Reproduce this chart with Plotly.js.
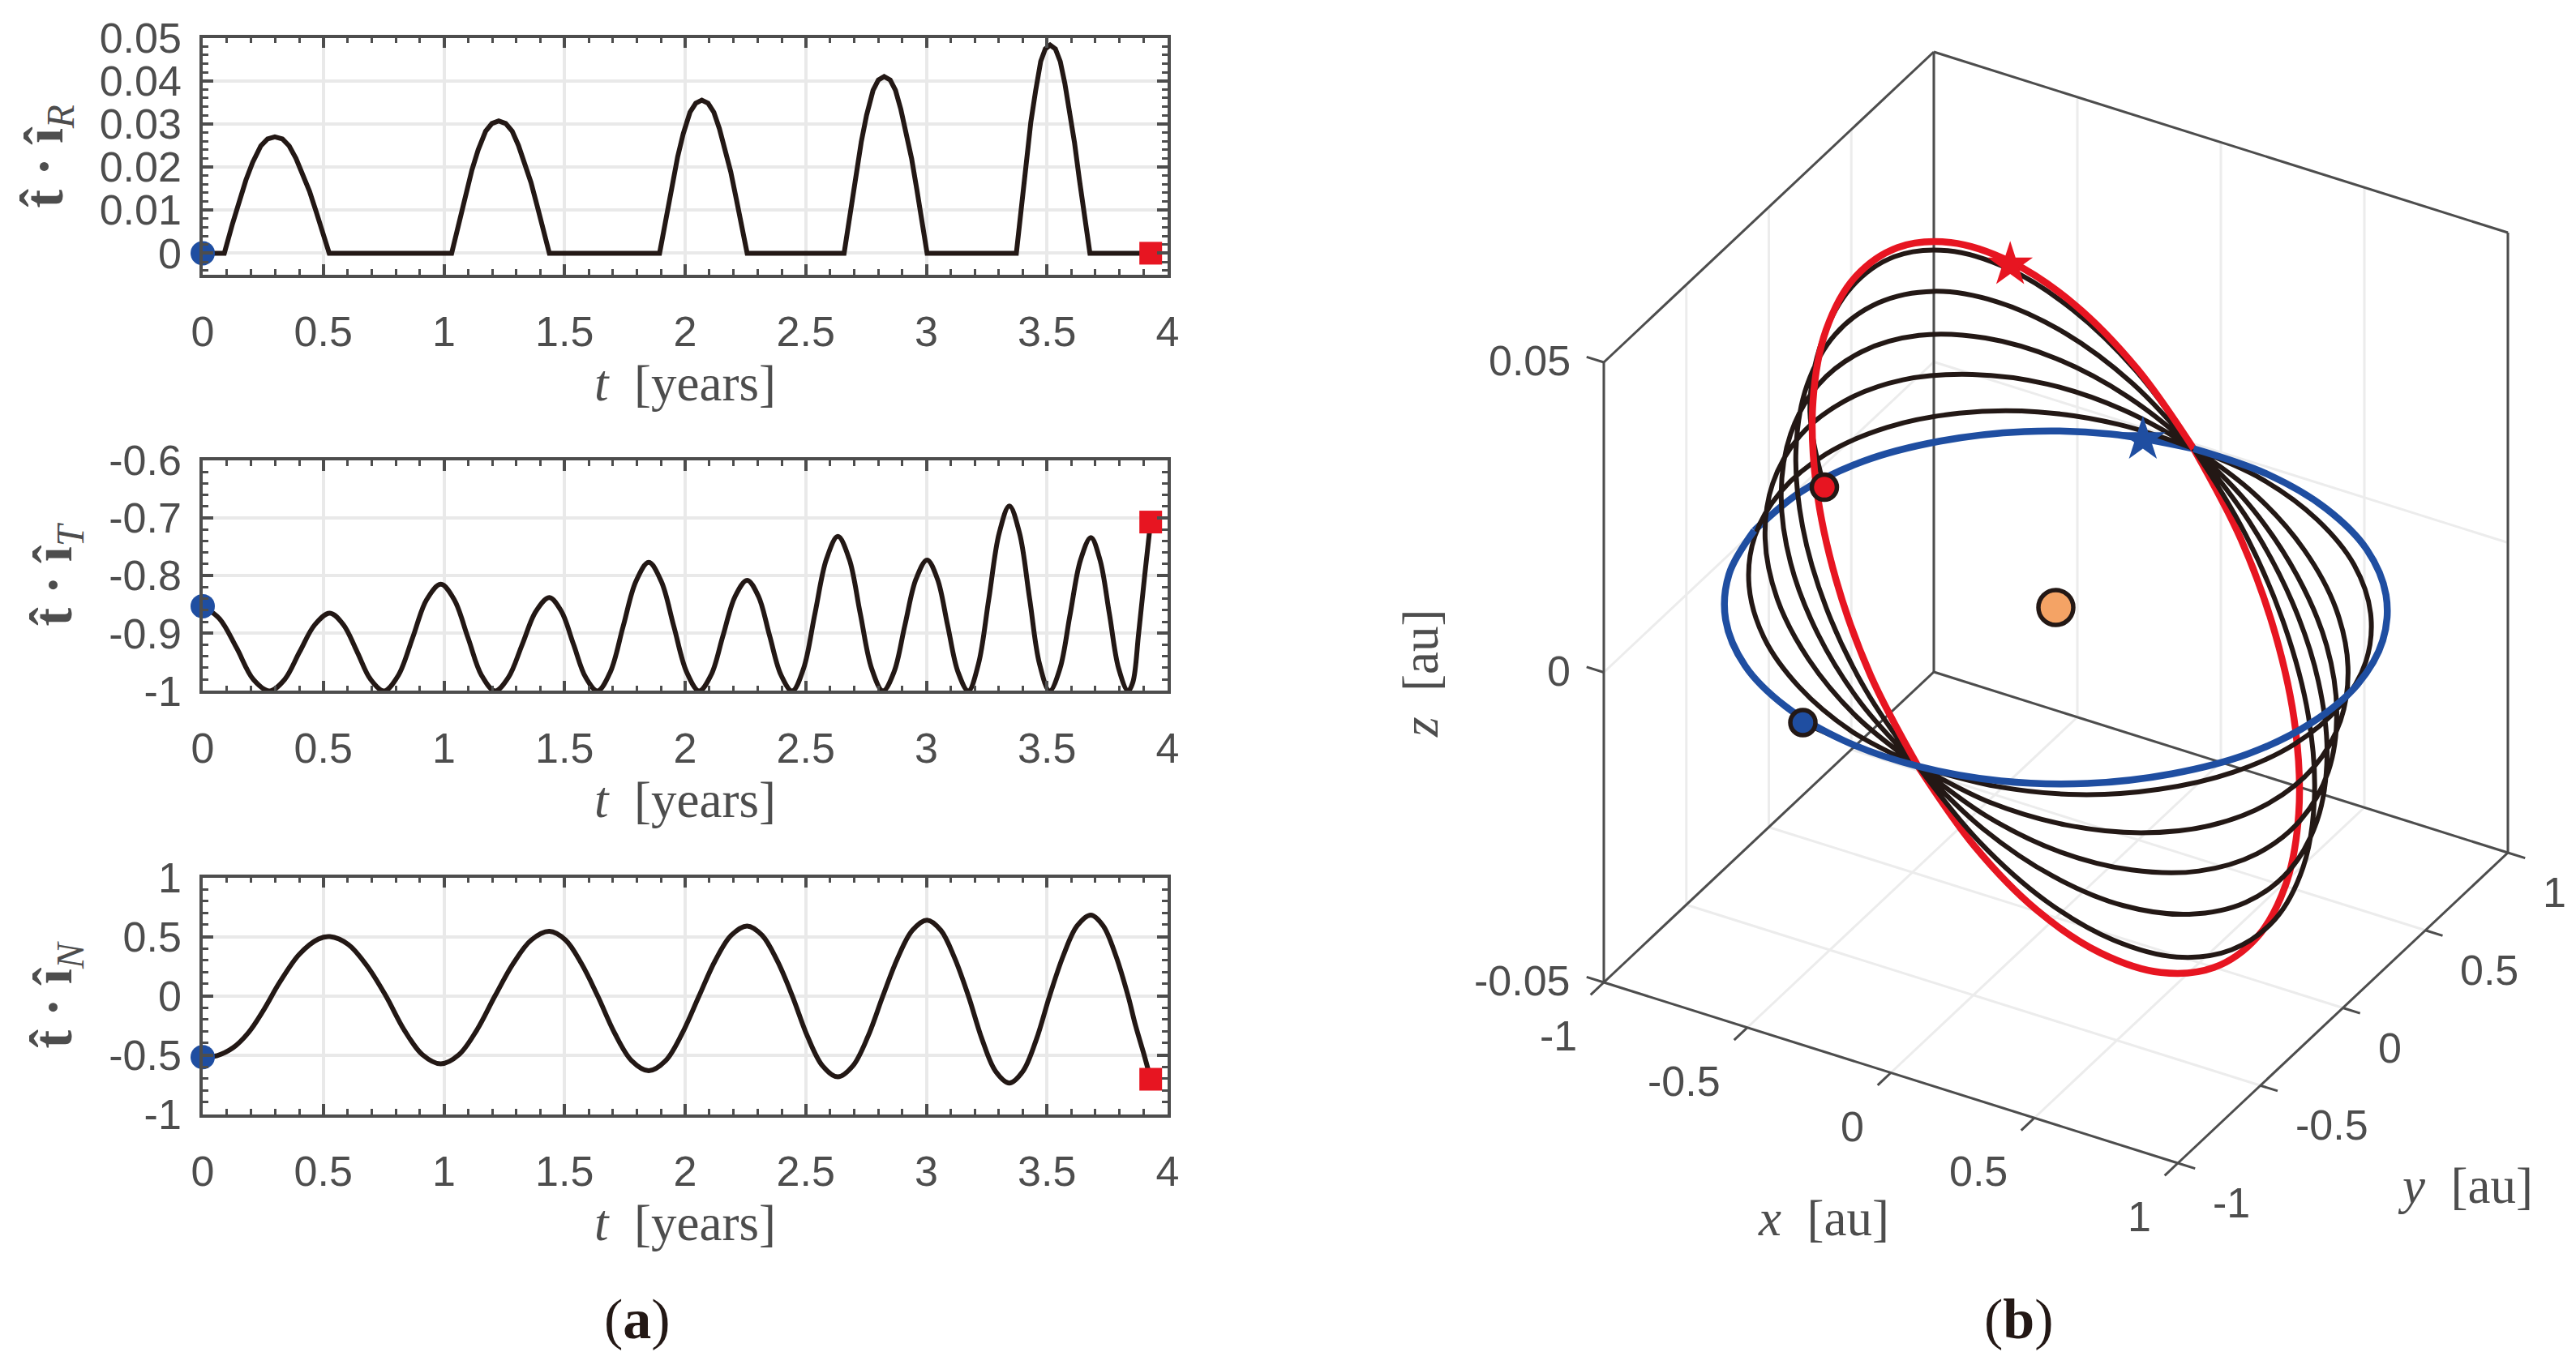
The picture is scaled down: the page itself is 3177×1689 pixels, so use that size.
<!DOCTYPE html>
<html><head><meta charset="utf-8">
<script src="https://cdn.plot.ly/plotly-3.0.1.min.js"></script>
<style>html,body{margin:0;padding:0;background:#fff}</style></head>
<body><div id="chart" style="width:3177px;height:1689px"></div>
<script>
// Panel (a) data
const tR=[0,0.0896,0.1233,0.1793,0.2073,0.2409,0.2689,0.2991,0.3305,0.3585,0.3865,0.4146,0.4426,0.4706,0.4986,0.5244,1.032,1.064,1.116,1.142,1.173,1.199,1.227,1.256,1.283,1.309,1.335,1.361,1.387,1.413,1.437,1.894,1.922,1.969,1.992,2.02,2.044,2.069,2.095,2.119,2.142,2.166,2.189,2.212,2.236,2.257,2.659,2.686,2.73,2.752,2.779,2.801,2.825,2.85,2.872,2.894,2.916,2.939,2.961,2.983,3.003,3.373,3.396,3.433,3.453,3.474,3.493,3.513,3.535,3.555,3.574,3.594,3.614,3.634,3.654,3.678,3.93];
const vR=[0,0,0.0068,0.017,0.0211,0.0249,0.0265,0.027,0.0265,0.0249,0.022,0.0185,0.0144,0.0096,0.0049,0,0,0.0077,0.0193,0.024,0.0283,0.0301,0.0307,0.0301,0.0283,0.025,0.021,0.0164,0.0109,0.0056,0,0,0.0089,0.0224,0.0277,0.0327,0.0348,0.0355,0.0348,0.0327,0.0289,0.0243,0.0189,0.0126,0.0064,0,0,0.0103,0.0258,0.032,0.0378,0.0402,0.041,0.0402,0.0378,0.0334,0.0281,0.0219,0.0146,0.0074,0,0,0.0122,0.0304,0.0377,0.0445,0.0474,0.0483,0.0474,0.0445,0.0394,0.0331,0.0257,0.0172,0.0087,0,0];
const tT=[0,0.07,0.14,0.21,0.277,0.34,0.402,0.465,0.527,0.583,0.64,0.696,0.752,0.811,0.87,0.928,0.987,1.043,1.1,1.156,1.212,1.268,1.325,1.381,1.437,1.487,1.537,1.587,1.637,1.69,1.743,1.796,1.849,1.901,1.953,2.006,2.058,2.108,2.157,2.207,2.257,2.304,2.35,2.397,2.444,2.491,2.538,2.586,2.633,2.68,2.726,2.773,2.82,2.866,2.911,2.957,3.003,3.046,3.088,3.131,3.174,3.216,3.259,3.302,3.344,3.386,3.428,3.469,3.511,3.554,3.596,3.639,3.682,3.72,3.759,3.797,3.836,3.856,3.88,3.905,3.93];
const vT=[-0.853,-0.875,-0.925,-0.98,-1,-0.98,-0.932,-0.885,-0.865,-0.885,-0.932,-0.98,-1,-0.973,-0.908,-0.842,-0.815,-0.842,-0.908,-0.973,-1,-0.976,-0.919,-0.862,-0.838,-0.862,-0.919,-0.976,-1,-0.967,-0.888,-0.81,-0.777,-0.81,-0.888,-0.967,-1,-0.972,-0.904,-0.836,-0.808,-0.836,-0.904,-0.972,-1,-0.961,-0.866,-0.771,-0.732,-0.771,-0.866,-0.961,-1,-0.967,-0.886,-0.806,-0.773,-0.806,-0.886,-0.967,-1,-0.953,-0.84,-0.726,-0.679,-0.726,-0.84,-0.953,-1,-0.961,-0.867,-0.773,-0.734,-0.773,-0.867,-0.961,-1,-0.985,-0.9,-0.8,-0.705];
const tN=[0,0.06,0.125,0.19,0.254,0.318,0.4,0.48,0.527,0.604,0.682,0.759,0.835,0.911,0.987,1.062,1.137,1.212,1.287,1.362,1.437,1.504,1.57,1.637,1.708,1.778,1.849,1.919,1.988,2.058,2.124,2.191,2.257,2.319,2.382,2.444,2.507,2.57,2.633,2.695,2.758,2.82,2.881,2.942,3.003,3.06,3.117,3.174,3.231,3.287,3.344,3.4,3.456,3.511,3.568,3.625,3.682,3.733,3.785,3.836,3.867,3.9,3.93];
const vN=[-0.518,-0.505,-0.44,-0.31,-0.115,0.11,0.35,0.48,0.5,0.433,0.25,0,-0.2875,-0.498,-0.575,-0.498,-0.2875,0,0.272,0.471,0.544,0.471,0.272,0,-0.3165,-0.548,-0.633,-0.548,-0.3165,0,0.295,0.511,0.59,0.511,0.295,0,-0.3425,-0.593,-0.685,-0.593,-0.3425,0,0.3195,0.553,0.639,0.553,0.3195,0,-0.3685,-0.638,-0.737,-0.638,-0.3685,0,0.341,0.591,0.682,0.591,0.341,0,-0.25,-0.48,-0.705];
const tStart=[0], tEnd=[3.93];
const rStart=[0], rEnd=[0], tiStart=[-0.853], tiEnd=[-0.707], nStart=[-0.518], nEnd=[-0.705];
const xTicks=[0,0.5,1,1.5,2,2.5,3,3.5,4];
const xLabels=['0','0.5','1','1.5','2','2.5','3','3.5','4'];
const rTicks=[0,0.01,0.02,0.03,0.04,0.05];
const rLabels=['0','0.01','0.02','0.03','0.04','0.05'];
const iTicks=[-1,-0.9,-0.8,-0.7,-0.6];
const iLabels=['-1','-0.9','-0.8','-0.7','-0.6'];
const nTicks=[-1,-0.5,0,0.5,1];
const nLabels=['-1','-0.5','0','0.5','1'];

// Panel (b) data: orbit positions in au
const trajX=[-0.322,-0.086,0.081,
 0.311,0.52,0.693,0.8195,0.89,0.8995,0.848,0.7385,0.579,0.38,0.155,-0.081,
 -0.304,-0.5055,-0.673,-0.7945,-0.862,-0.871,-0.82,-0.7135,-0.559,-0.3655,-0.148,0.081,
 0.29,0.4785,0.635,0.748,0.81,0.817,0.768,0.667,0.521,0.3385,0.134,-0.081,
 -0.288,-0.476,-0.631,-0.7435,-0.805,-0.812,-0.763,-0.6625,-0.517,-0.336,-0.132,0.081,
 0.279,0.458,0.606,0.7125,0.771,0.776,0.729,0.6315,0.492,0.318,0.123,-0.081,
 -0.273,-0.4465,-0.589,-0.6925,-0.748,-0.753,-0.706,-0.6115,-0.475,-0.3065,-0.117,0.081,
 0.27,0.44,0.58,0.6815,0.736,0.74,0.694,0.6005,0.466,0.3,0.114,-0.081,
 -0.259,-0.4195,-0.551,-0.6455,-0.696,-0.699,-0.654,-0.5645,-0.437,-0.2795,-0.103,0.081,
 0.258,0.417,0.548,0.6415,0.691,0.694,0.649,0.5605,0.434,0.277,0.102,-0.081,
 -0.246,-0.394,-0.515,-0.6015,-0.647,-0.648,-0.605,-0.5205,-0.384];
const trajY=[-0.973,-0.99,-0.976,
 -0.903,-0.767,-0.58,-0.353,-0.103,0.155,0.403,0.623,0.8,0.923,0.983,0.976,
 0.904,0.77,0.584,0.358,0.108,-0.1505,-0.398,-0.618,-0.796,-0.92,-0.982,-0.976,
 -0.906,-0.774,-0.59,-0.366,-0.117,0.141,0.389,0.61,0.79,0.916,0.98,0.976,
 0.907,0.775,0.591,0.3665,0.117,-0.14,-0.389,-0.6095,-0.789,-0.915,-0.979,-0.976,
 -0.908,-0.778,-0.595,-0.372,-0.123,0.134,0.383,0.604,0.785,0.912,0.978,0.976,
 0.909,0.78,0.598,0.375,0.127,-0.13,-0.379,-0.601,-0.782,-0.91,-0.977,-0.976,
 -0.91,-0.781,-0.6,-0.377,-0.129,0.128,0.377,0.599,0.78,0.909,0.976,0.976,
 0.912,0.785,0.605,0.383,0.136,-0.121,-0.37,-0.593,-0.775,-0.905,-0.974,-0.976,
 -0.912,-0.785,-0.605,-0.384,-0.137,0.12,0.369,0.592,0.775,0.905,0.974,0.976,
 0.914,0.789,0.611,0.391,0.145,-0.112,-0.361,-0.585,-0.735];
const trajZ=[0.0011,0.0005,0,
 -0.0017,-0.0034,-0.0047,-0.0058,-0.0065,-0.0067,-0.0065,-0.0058,-0.0047,-0.0034,-0.0017,0,
 0.0025,0.0049,0.0069,0.0085,0.0095,0.0098,0.0095,0.0085,0.0069,0.0049,0.0025,0,
 -0.0045,-0.0087,-0.0123,-0.0151,-0.0168,-0.0174,-0.0168,-0.0151,-0.0123,-0.0087,-0.0045,0,
 0.005,0.0097,0.0136,0.0167,0.0186,0.0193,0.0186,0.0167,0.0136,0.0097,0.005,0,
 -0.0068,-0.0132,-0.0186,-0.0228,-0.0254,-0.0263,-0.0254,-0.0228,-0.0186,-0.0132,-0.0068,0,
 0.0073,0.0141,0.0199,0.0244,0.0272,0.0282,0.0272,0.0244,0.0199,0.0141,0.0073,0,
 -0.009,-0.0174,-0.0246,-0.0301,-0.0336,-0.0348,-0.0336,-0.0301,-0.0246,-0.0174,-0.009,0,
 0.0096,0.0185,0.0261,0.032,0.0356,0.0369,0.0356,0.032,0.0261,0.0185,0.0096,0,
 -0.0112,-0.0216,-0.0305,-0.0374,-0.0417,-0.0432,-0.0417,-0.0374,-0.0305,-0.0216,-0.0112,0,
 0.0117,0.0225,0.0318,0.039,0.0435,0.045,0.0435,0.039,0.0322];
const blueX=[-0.081,0.17,0.408,0.619,0.7875,0.902,0.956,0.944,0.8685,0.733,0.548,0.326,0.081,-0.17,-0.408,-0.619,-0.7875,-0.902,-0.956,-0.944,-0.8685,-0.733,-0.548,-0.326,-0.081];
const blueY=[0.976,0.986,0.9275,0.807,0.631,0.412,0.165,-0.094,-0.345,-0.573,-0.7625,-0.9,-0.976,-0.986,-0.9275,-0.807,-0.631,-0.412,-0.165,0.094,0.345,0.573,0.7625,0.9,0.976];
const blueZ=[0,-0.0007,-0.0013,-0.0018,-0.0023,-0.0025,-0.0026,-0.0025,-0.0023,-0.0018,-0.0013,-0.0007,0,0.0007,0.0013,0.0018,0.0023,0.0025,0.0026,0.0025,0.0023,0.0018,0.0013,0.0007,0];
const redX=[-0.081,0.087,0.2485,0.393,0.511,0.594,0.637,0.636,0.592,0.507,0.3885,0.243,0.081,-0.087,-0.2485,-0.393,-0.511,-0.594,-0.637,-0.636,-0.592,-0.507,-0.3885,-0.243,-0.081];
const redY=[0.976,0.9715,0.9,0.768,0.583,0.359,0.11,-0.147,-0.393,-0.612,-0.79,-0.9145,-0.976,-0.9715,-0.9,-0.768,-0.583,-0.359,-0.11,0.147,0.393,0.612,0.79,0.9145,0.976];
const redZ=[0,-0.0121,-0.0234,-0.033,-0.0404,-0.0451,-0.0467,-0.0451,-0.0404,-0.033,-0.0234,-0.0121,0,0.0121,0.0234,0.033,0.0404,0.0451,0.0467,0.0451,0.0404,0.033,0.0234,0.0121,0];
const sunXYZ=[0,0,0];
const blueDot=[-0.322,-0.973,0.0011], redDot=[-0.384,-0.735,0.0322];
const blueStar=[-0.232,0.931,0.0004], redStar=[-0.504,0.6,0.0329];
const xyTicks=[-1,-0.5,0,0.5,1], xyLabels=['-1','-0.5','0','0.5','1'];
const zTicks=[-0.05,0,0.05], zLabels=['-0.05','0','0.05'];

const BLACK='#231815', BLUE='#1f4ea1', RED='#e71521', ORANGE='#f4a365', AX='#4d4d4d', GRID='#e9e9e9';
const W=3177,H=1689;
const xd=[250/W,1440/W];
const yd=(a,b)=>[1-b/H,1-a/H];
const tickFont={family:'Liberation Sans, Arial, sans-serif',size:52,color:AX};
const titleFont={family:'Liberation Serif, serif',size:63,color:AX};
function xax(anchor){return {domain:xd,range:[0,4],anchor,tickvals:xTicks,ticktext:xLabels,tickfont:tickFont,ticks:'inside',ticklen:13,tickwidth:3.5,tickcolor:AX,
  ticklabelstandoff:22,showline:true,linecolor:AX,linewidth:3.5,mirror:'allticks',showgrid:true,gridcolor:GRID,gridwidth:3.5,zeroline:false,
  minor:{dtick:0.1,ticks:'inside',ticklen:7,tickwidth:3,tickcolor:AX,showgrid:false},
  title:{text:'<i>t</i>  [years]',font:titleFont,standoff:6}};}
function yax(anchor,dom,range,vals,labs,minor,ttl){return {domain:dom,range,anchor,tickvals:vals,ticktext:labs,tickfont:tickFont,ticks:'inside',ticklen:13,tickwidth:3.5,tickcolor:AX,
  ticklabelstandoff:12,showline:true,linecolor:AX,linewidth:3.5,mirror:'allticks',showgrid:true,gridcolor:GRID,gridwidth:3.5,zeroline:false,
  minor:{dtick:minor,ticks:'inside',ticklen:7,tickwidth:3,tickcolor:AX,showgrid:false},
  title:{text:ttl,font:{family:'Liberation Serif, serif',size:68,color:AX},standoff:24}};}
function line(x,y,xa,ya,shape){return {type:'scatter',mode:'lines',x,y,xaxis:xa,yaxis:ya,cliponaxis:false,line:{color:BLACK,width:6,shape,smoothing:1},hoverinfo:'skip'};}
function dot(x,y,xa,ya,sym,color,size){return {type:'scatter',mode:'markers',x,y,xaxis:xa,yaxis:ya,cliponaxis:false,marker:{symbol:sym,color,size,line:{width:0}},hoverinfo:'skip'};}

// Orthographic view of panel (b): one box unit along each axis, in pixels of the hidden view axes
const viewU=[354,203.5,0], viewV=[-111.5,191.5,7650];
const pu=(x,y,z)=>viewU[0]*x+viewU[1]*y+viewU[2]*z;
const pv=(x,y,z)=>viewV[0]*x+viewV[1]*y+viewV[2]*z;
function proj(X,Y,Z){return {x:X.map((v,i)=>pu(v,Y[i],Z[i])),y:X.map((v,i)=>pv(v,Y[i],Z[i]))};}
function pathTrace(X,Y,Z,color,width,shape){const p=proj(X,Y,Z);return {type:'scatter',mode:'lines',x:p.x,y:p.y,xaxis:'x4',yaxis:'y4',cliponaxis:false,line:{color,width,shape:shape||'linear',smoothing:1},hoverinfo:'skip'};}
function segTrace(segs,color,width){const X=[],Y=[];segs.forEach(s=>{X.push(pu(...s[0]),pu(...s[1]),null);Y.push(pv(...s[0]),pv(...s[1]),null);});
  return {type:'scatter',mode:'lines',x:X,y:Y,xaxis:'x4',yaxis:'y4',cliponaxis:false,line:{color,width},hoverinfo:'skip'};}
function m2(p,sym,color,size,lw){return {type:'scatter',mode:'markers',x:[pu(...p)],y:[pv(...p)],xaxis:'x4',yaxis:'y4',cliponaxis:false,marker:{symbol:sym,color,size,line:{color:BLACK,width:lw}},hoverinfo:'skip'};}
function labels(pts,texts,du,dv,anchor){return pts.map((p,i)=>({xref:'x4',yref:'y4',x:pu(...p)+du,y:pv(...p)+dv,text:texts[i],xanchor:anchor,yanchor:'middle',showarrow:false,font:tickFont,borderpad:0,borderwidth:0}));}
const a=1,zl=0.05;
const gridSegs=[],boxSegs=[],tickSegs=[];
xyTicks.forEach(v=>{gridSegs.push([[v,-a,-zl],[v,a,-zl]],[[v,a,-zl],[v,a,zl]],[[-a,v,-zl],[a,v,-zl]],[[-a,v,-zl],[-a,v,zl]]);
  tickSegs.push([[v,-a,-zl],[v,-a-0.08,-zl]],[[a,v,-zl],[a+0.06,v,-zl]]);});
zTicks.forEach(v=>{gridSegs.push([[-a,-a,v],[-a,a,v]],[[-a,a,v],[a,a,v]]);tickSegs.push([[-a,-a,v],[-a-0.06,-a,v]]);});
boxSegs.push([[a,-a,-zl],[-a,-a,-zl]],[[-a,-a,-zl],[-a,-a,zl]],[[-a,-a,zl],[-a,a,zl]],[[-a,a,zl],[a,a,zl]],[[a,a,zl],[a,a,-zl]],[[a,a,-zl],[a,-a,-zl]],[[-a,a,-zl],[-a,-a,-zl]],[[-a,a,-zl],[-a,a,zl]],[[-a,a,-zl],[a,a,-zl]]);
const CL=8.5, TL=6, HALF=12, BLUE_BACK=18;
const data=[
 line(tR,vR,'x','y','linear'),dot(tStart,rStart,'x','y','circle',BLUE,30),dot(tEnd,rEnd,'x','y','square',RED,28),
 line(tT,vT,'x2','y2','spline'),dot(tStart,tiStart,'x2','y2','circle',BLUE,30),dot(tEnd,tiEnd,'x2','y2','square',RED,28),
 line(tN,vN,'x3','y3','spline'),dot(tStart,nStart,'x3','y3','circle',BLUE,30),dot(tEnd,nEnd,'x3','y3','square',RED,28),
 segTrace(gridSegs,'#ececec',3),segTrace(boxSegs.concat(tickSegs),AX,3),
 pathTrace(blueX.slice(BLUE_BACK),blueY.slice(BLUE_BACK),blueZ.slice(BLUE_BACK),BLUE,CL,'spline'),
 pathTrace(redX.slice(0,HALF+1),redY.slice(0,HALF+1),redZ.slice(0,HALF+1),RED,CL,'spline'),
 pathTrace(trajX,trajY,trajZ,BLACK,TL,'spline'),
 pathTrace(redX.slice(HALF),redY.slice(HALF),redZ.slice(HALF),RED,CL,'spline'),
 pathTrace(blueX.slice(0,BLUE_BACK+1),blueY.slice(0,BLUE_BACK+1),blueZ.slice(0,BLUE_BACK+1),BLUE,CL,'spline'),
 m2(sunXYZ,'circle',ORANGE,43,5.5),m2(blueDot,'circle',BLUE,31,5.5),m2(redDot,'circle',RED,31,5.5),
 m2(blueStar,'star',BLUE,42,0),m2(redStar,'star',RED,42,0)
];
const bare={showticklabels:false,ticks:'',tickvals:[],showgrid:false,zeroline:false,showline:false};
const layout={width:W,height:H,margin:{l:0,r:0,t:0,b:0,autoexpand:false},paper_bgcolor:'#fff',plot_bgcolor:'#fff',showlegend:false,
 xaxis:xax('y'),yaxis:yax('x',yd(46.5,339),[-0.005,0.05],rTicks,rLabels,0.002,'<b>t̂ · î</b><sub><i>R</i></sub>'),
 xaxis2:xax('y2'),yaxis2:yax('x2',yd(568,852.4),[-1,-0.6],iTicks,iLabels,0.02,'<b>t̂ · î</b><sub><i>T</i></sub>'),
 xaxis3:xax('y3'),yaxis3:yax('x3',yd(1082.5,1374.6),[-1,1],nTicks,nLabels,0.1,'<b>t̂ · î</b><sub><i>N</i></sub>'),
 xaxis4:Object.assign({},bare,{domain:[1700/W,1],range:[1700-2535.5,3177-2535.5],anchor:'y4'}),
 yaxis4:Object.assign({},bare,{domain:[0,1],range:[749.5-1689,749.5],anchor:'x4'}),
 annotations:[
  {xref:'paper',yref:'paper',x:786/W,y:1-1627/H,xanchor:'center',yanchor:'middle',text:'(<b>a</b>)',showarrow:false,font:{family:'Liberation Serif, serif',size:70,color:BLACK}},
  {xref:'paper',yref:'paper',x:2490/W,y:1-1627/H,xanchor:'center',yanchor:'middle',text:'(<b>b</b>)',showarrow:false,font:{family:'Liberation Serif, serif',size:70,color:BLACK}},
  {xref:'paper',yref:'paper',x:1752/W,y:1-831/H,xanchor:'center',yanchor:'middle',text:'<i>z</i>  [au]',textangle:-90,showarrow:false,font:titleFont},
  {xref:'paper',yref:'paper',x:2249/W,y:1-1503/H,xanchor:'center',yanchor:'middle',text:'<i>x</i>  [au]',showarrow:false,font:titleFont},
  {xref:'paper',yref:'paper',x:3040/W,y:1-1463/H,xanchor:'center',yanchor:'middle',text:'<i>y</i>  [au]',showarrow:false,font:titleFont},
  ...labels(xyTicks.map(v=>[v,-a,-zl]),xyLabels,-33,-66,'right'),
  ...labels(xyTicks.map(v=>[a,v,-zl]),xyLabels,43,-49,'left'),
  ...labels(zTicks.map(v=>[-a,-a,v]),zLabels,-41,2,'right')
 ]};
Plotly.newPlot('chart',data,layout,{displayModeBar:false});
</script></body></html>
